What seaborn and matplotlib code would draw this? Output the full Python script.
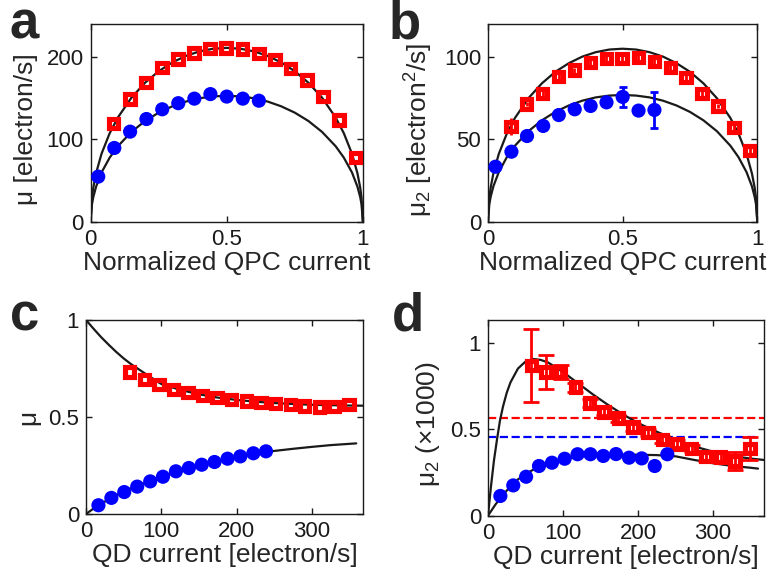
import matplotlib
matplotlib.use("Agg")
import matplotlib.pyplot as plt
import seaborn as sns

# ---- panels a / b : normalized QPC current ----
qpc_x_red = [0.085, 0.144, 0.203, 0.262, 0.321, 0.380, 0.439, 0.498,
             0.558, 0.618, 0.677, 0.735, 0.795, 0.854, 0.913, 0.972]
qpc_x_blue = [0.028, 0.087, 0.145, 0.205, 0.263, 0.322, 0.381, 0.440,
              0.500, 0.559, 0.618]

mu_red = [119.6, 149, 169, 187, 197.6, 205, 210.5, 211,
          209.7, 204, 197, 186, 172, 152, 123.6, 78.4]
mu_blue = [55, 89.7, 109.5, 124.8, 136.6, 144, 149.5, 155, 152, 149.5, 147]

mu2_red = [57.8, 71.5, 78, 88, 92, 96.8, 99, 99,
           99.6, 97.4, 93.5, 87.7, 78, 70.3, 57.4, 43.2]
mu2_red_err = [5.3, 1.5, 1.5, 1.5, 1.5, 1.5, 1.5, 1.5,
               1.5, 1.5, 1.5, 1.5, 1.5, 1.5, 1.5, 1.5]
mu2_blue = [33.5, 42.6, 52.1, 58.2, 64.8, 68.3, 70.3, 72.5, 75.8, 67.5, 67.9]
mu2_blue_err = [1, 1, 1, 1, 1, 1, 1, 1.5, 6.3, 1.5, 10.9]

# model curves
fit_qpc_x = [0, 0.005, 0.01, 0.02, 0.04, 0.07, 0.1, 0.15, 0.2, 0.25, 0.3,
             0.35, 0.4, 0.45, 0.5, 0.55, 0.6, 0.65, 0.7, 0.75, 0.8, 0.85,
             0.9, 0.93, 0.96, 0.98, 0.99, 0.995, 1.0]
fit_mu_red = [0, 29.8, 42, 59.1, 82.7, 107.6, 126.6, 150.7, 168.8, 182.7, 193.4,
              201.3, 206.8, 210, 211, 210, 206.8, 201.3, 193.4, 182.7, 168.8, 150.7,
              126.6, 107.6, 82.7, 59.1, 42, 29.8, 0]
fit_mu_blue = [0, 21.6, 30.4, 42.8, 60, 78, 91.8, 109.2, 122.4, 132.5, 140.2,
               146, 150, 152.2, 153, 152.2, 150, 146, 140.2, 132.5, 122.4, 109.2,
               91.8, 78, 60, 42.8, 30.4, 21.6, 0]
fit_mu2_red = [0, 14.8, 20.9, 29.4, 41.2, 53.6, 63, 75, 84, 91, 96.2,
               100.2, 102.9, 104.5, 105, 104.5, 102.9, 100.2, 96.2, 91, 84, 75,
               63, 53.6, 41.2, 29.4, 20.9, 14.8, 0]
fit_mu2_blue = [0, 10.9, 15.3, 21.6, 30.2, 39.3, 46.2, 55, 61.6, 66.7, 70.6,
                73.5, 75.5, 76.6, 77, 76.6, 75.5, 73.5, 70.6, 66.7, 61.6, 55,
                46.2, 39.3, 30.2, 21.6, 15.3, 10.9, 0]

# ---- panels c / d : QD current [electron/s] ----
qd_x_red = [58, 77.5, 97, 116.5, 135.5, 154.5, 174, 193.5,
            213.5, 232.5, 252, 271.5, 290.5, 310, 329.5, 349.5]
qd_x_blue = [16.5, 33.7, 50.8, 68, 85.3, 102.2, 119.4, 136.6,
             153.7, 170.7, 188, 205, 222.3, 239.1]

norm_red = [0.732, 0.694, 0.667, 0.643, 0.625, 0.612, 0.601, 0.591,
            0.582, 0.576, 0.569, 0.564, 0.557, 0.552, 0.553, 0.564]
norm_blue = [0.045, 0.083, 0.113, 0.141, 0.168, 0.192, 0.22, 0.237,
             0.254, 0.268, 0.285, 0.297, 0.313, 0.323]

var_red = [0.867, 0.83, 0.83, 0.742, 0.651, 0.60, 0.563, 0.512,
           0.481, 0.441, 0.415, 0.388, 0.343, 0.338, 0.316, 0.388]
var_red_err = [0.21, 0.10, 0.04, 0.025, 0.025, 0.02, 0.02, 0.02,
               0.02, 0.02, 0.02, 0.02, 0.025, 0.025, 0.05, 0.068]
var_blue = [0.114, 0.175, 0.225, 0.287, 0.306, 0.329, 0.355, 0.355,
            0.345, 0.356, 0.335, 0.331, 0.287, 0.355]
var_red_level = 0.5625
var_blue_level = 0.453

fit_c_red_x = [0, 10, 20, 30, 40, 50, 60, 80, 100, 125, 150, 175, 200, 225,
               250, 275, 300, 325, 350, 375]
fit_c_red_y = [1.0, 0.955, 0.912, 0.873, 0.836, 0.802, 0.772, 0.72, 0.670, 0.640,
               0.617, 0.600, 0.588, 0.579, 0.572, 0.567, 0.563, 0.561, 0.559, 0.558]
fit_c_blue_x = [0, 10, 20, 40, 60, 80, 100, 125, 150, 175, 200, 225, 250, 275,
                300, 325, 359]
fit_c_blue_y = [0, 0.028, 0.053, 0.097, 0.133, 0.163, 0.19, 0.222, 0.248, 0.27,
                0.292, 0.31, 0.325, 0.336, 0.346, 0.355, 0.364]

fit_d_red_x = [0, 4, 8, 12, 16, 20, 25, 30, 40, 50, 60, 70, 80, 100, 120, 140,
               160, 180, 200, 225, 250, 275, 300, 325, 350, 370]
fit_d_red_y = [0, 0.17, 0.32, 0.44, 0.55, 0.63, 0.71, 0.77, 0.85, 0.89, 0.905,
               0.9, 0.885, 0.83, 0.765, 0.70, 0.64, 0.585, 0.535, 0.485, 0.44,
               0.40, 0.37, 0.345, 0.33, 0.321]
fit_d_blue_x = [0, 10, 20, 30, 40, 50, 60, 80, 100, 125, 150, 175, 200, 225,
                250, 275, 300, 325, 350, 360]
fit_d_blue_y = [0, 0.065, 0.12, 0.17, 0.21, 0.24, 0.265, 0.30, 0.325, 0.342,
                0.35, 0.352, 0.352, 0.35, 0.343, 0.322, 0.303, 0.288, 0.277, 0.272]

qpc_ticks = [0, 0.5, 1]
qpc_ticklabels = ["0", "0.5", "1"]
qd_ticks = [0, 100, 200, 300]
unit_ticks = [0, 0.5, 1]
unit_ticklabels = ["0", "0.5", "1"]

RED = "#ff0000"
BLUE = "#0000ff"

sns.set_theme(style="ticks")
plt.rcParams["font.family"] = ["Liberation Sans", "DejaVu Sans"]
plt.rcParams["mathtext.fontset"] = "custom"
plt.rcParams["mathtext.rm"] = "Liberation Sans"
plt.rcParams["mathtext.it"] = "Liberation Sans:italic"
plt.rcParams["mathtext.default"] = "regular"

fig = plt.figure(figsize=(7.68, 5.79), dpi=100)
ax_a = fig.add_axes([0.118, 0.6166, 0.3545, 0.342])
ax_b = fig.add_axes([0.6354, 0.6166, 0.3507, 0.342])
ax_c = fig.add_axes([0.112, 0.1123, 0.3607, 0.335])
ax_d = fig.add_axes([0.6354, 0.1093, 0.3594, 0.338])


def curve(ax, x, y):
    sns.lineplot(x=x, y=y, color="k", lw=1.6, ax=ax, zorder=2)


def squares(ax, x, y, err=None, capsize=6):
    if err is not None:
        ax.errorbar(x, y, yerr=err, fmt="none", ecolor=RED, elinewidth=2,
                    capsize=capsize, capthick=2, zorder=2.5)
    # hollow squares with a very thick edge, as in the original
    sns.scatterplot(x=x, y=y, marker="s", s=6.8 ** 2, facecolor="none",
                    edgecolor=RED, linewidth=3.7, joinstyle="miter", ax=ax,
                    zorder=3)


def circles(ax, x, y, err=None):
    if err is not None:
        ax.errorbar(x, y, yerr=err, fmt="none", ecolor=BLUE, elinewidth=2,
                    capsize=3, capthick=2, zorder=2.5)
    sns.scatterplot(x=x, y=y, marker="o", s=10.2 ** 2, color=BLUE,
                    edgecolor="none", ax=ax, zorder=3)


# a
curve(ax_a, fit_qpc_x, fit_mu_red)
curve(ax_a, fit_qpc_x, fit_mu_blue)
squares(ax_a, qpc_x_red, mu_red)
circles(ax_a, qpc_x_blue, mu_blue)
ax_a.set_xlim(0, 1)
ax_a.set_ylim(0, 240)
ax_a.set_xticks(qpc_ticks, labels=qpc_ticklabels)
ax_a.set_yticks([0, 100, 200], labels=["0", "100", "200"])
ax_a.set_xlabel("Normalized QPC current")
ax_a.set_ylabel("μ [electron/s]")

# b
curve(ax_b, fit_qpc_x, fit_mu2_red)
curve(ax_b, fit_qpc_x, fit_mu2_blue)
squares(ax_b, qpc_x_red, mu2_red, mu2_red_err, capsize=0)
circles(ax_b, qpc_x_blue, mu2_blue, mu2_blue_err)
ax_b.set_xlim(0, 1)
ax_b.set_ylim(0, 120)
ax_b.set_xticks(qpc_ticks, labels=qpc_ticklabels)
ax_b.set_yticks([0, 50, 100], labels=["0", "50", "100"])
ax_b.set_xlabel("Normalized QPC current")
ax_b.set_ylabel("μ$_2$ [electron$^2$/s]")

# c
curve(ax_c, fit_c_red_x, fit_c_red_y)
curve(ax_c, fit_c_blue_x, fit_c_blue_y)
squares(ax_c, qd_x_red, norm_red)
circles(ax_c, qd_x_blue, norm_blue)
ax_c.set_xlim(0, 368)
ax_c.set_ylim(0, 1)
ax_c.set_xticks(qd_ticks, labels=[str(t) for t in qd_ticks])
ax_c.set_yticks(unit_ticks, labels=unit_ticklabels)
ax_c.set_xlabel("QD current [electron/s]")
ax_c.set_ylabel("μ")

# d
ax_d.hlines(var_red_level, 0, 370, color=RED, ls="--", lw=1.6, zorder=1.5)
ax_d.hlines(var_blue_level, 0, 360, color=BLUE, ls="--", lw=1.6, zorder=1.5)
curve(ax_d, fit_d_red_x, fit_d_red_y)
curve(ax_d, fit_d_blue_x, fit_d_blue_y)
squares(ax_d, qd_x_red, var_red, var_red_err)
circles(ax_d, qd_x_blue, var_blue)
ax_d.set_xlim(0, 368)
ax_d.set_ylim(0, 1.13)
ax_d.set_xticks(qd_ticks, labels=[str(t) for t in qd_ticks])
ax_d.set_yticks(unit_ticks, labels=unit_ticklabels)
ax_d.set_xlabel("QD current [electron/s]")
ax_d.set_ylabel("μ$_2$ (×1000)")

for ax in (ax_a, ax_b, ax_c, ax_d):
    ax.tick_params(direction="in", length=4, width=1, top=True, right=True,
                   labelsize=16, pad=5, colors="k")
    for sp in ax.spines.values():
        sp.set_linewidth(1.0)
        sp.set_color("k")
    ax.xaxis.label.set_size(19)
    ax.yaxis.label.set_size(19)
    ax.xaxis.labelpad = 1
    ax.yaxis.labelpad = 6

# labels in the original sit slightly below the axes centre
ax_a.yaxis.label.set_y(0.47)
ax_b.yaxis.label.set_y(0.465)
ax_d.yaxis.label.set_y(0.47)

for letter, x, y in [("a", 0.013, 0.934), ("b", 0.5065, 0.934),
                     ("c", 0.013, 0.43), ("d", 0.51, 0.43)]:
    fig.text(x, y, letter, fontsize=38, fontweight="bold", ha="left",
             va="baseline")

fig.savefig("out.png", dpi=100)
